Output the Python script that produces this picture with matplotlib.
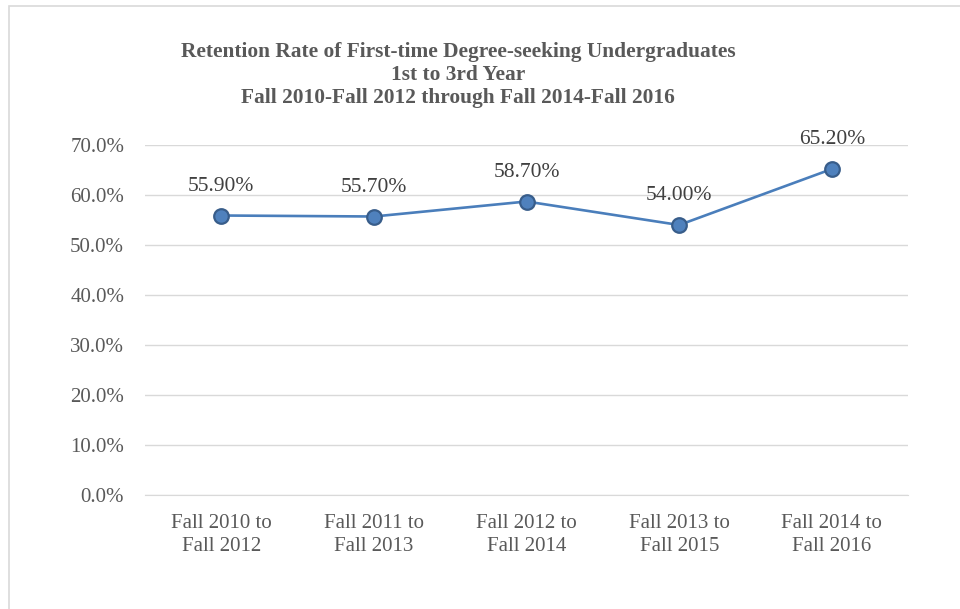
import matplotlib
matplotlib.use("Agg")
import matplotlib.pyplot as plt
from matplotlib.patches import Rectangle

plt.rcParams['font.family'] = ['Liberation Serif', 'DejaVu Serif']

# Datos
periodos = ["Fall 2010 to\nFall 2012", "Fall 2011 to\nFall 2013", "Fall 2012 to\nFall 2014",
            "Fall 2013 to\nFall 2015", "Fall 2014 to\nFall 2016"]
retencion = [55.9, 55.7, 58.7, 54.0, 65.2]
y_ticks = [0, 10, 20, 30, 40, 50, 60, 70]

gris = '#595959'

fig = plt.figure(figsize=(9.6, 6.09), dpi=100)
ax = fig.add_axes([0.151, 0.1872, 0.795, 0.5747])

x = range(len(periodos))
ax.plot(x, retencion, '-o', color='#4a7ebb', lw=1.9, ms=10.5,
        markerfacecolor='#4f81bd', markeredgecolor='#385d8a', markeredgewidth=1.6,
        zorder=3)
for xi, v in zip(x, retencion):
    ax.annotate(f"{v:.2f}%", (xi, v), xytext=(0, 21), textcoords='offset points',
                ha='center', va='center', fontsize=15.5, color='#404040')

ax.set_xlim(-0.5, len(periodos) - 0.5)
ax.set_ylim(0, 70)
ax.set_yticks(y_ticks)
ax.set_yticklabels([f"{t:.1f}%" for t in y_ticks])
ax.set_xticks(list(x))
ax.set_xticklabels(periodos, linespacing=1.3)
ax.tick_params(length=0, labelsize=15, labelcolor=gris)
ax.tick_params(axis='y', pad=15)
ax.tick_params(axis='x', pad=13.5)
ax.grid(axis='y', color='#d9d9d9', lw=1)
ax.set_axisbelow(True)
for s in ['top', 'right', 'left']:
    ax.spines[s].set_visible(False)
ax.spines['bottom'].set_color('#d9d9d9')

fig.text(0.477, 0.877, "Retention Rate of First-time Degree-seeking Undergraduates\n"
         "1st to 3rd Year\nFall 2010-Fall 2012 through Fall 2014-Fall 2016",
         ha='center', va='center', fontsize=15.4, fontweight='bold', color=gris,
         linespacing=1.2)

# borde del gráfico
fig.patches.append(Rectangle((8.5 / 960, -0.1), 1.2, 1.1 - 6.5 / 609, transform=fig.transFigure,
                             fill=False, edgecolor='#d9d9d9', lw=1.2))

fig.savefig("out.png", dpi=100)
